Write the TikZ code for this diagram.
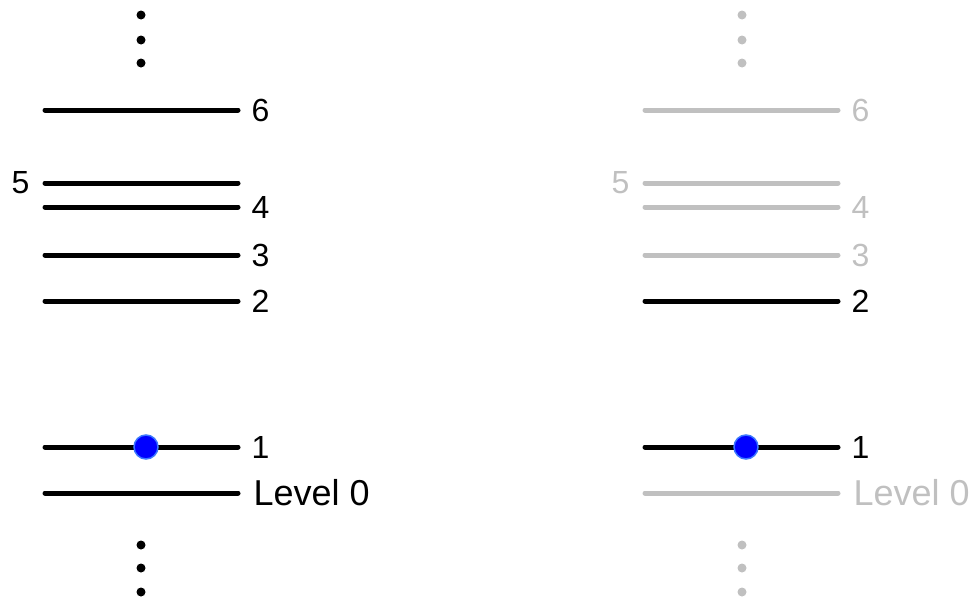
\documentclass[tikz,border=0pt]{standalone}
\usepackage{fontspec}
\setmainfont{Liberation Sans}
\usetikzlibrary{positioning}
\definecolor{faded}{RGB}{192,192,192}
\definecolor{rimblue}{RGB}{60,120,255}

\begin{document}
\begin{tikzpicture}[x=1pt, y=-1pt,
  level/.style={line width=5pt, line cap=round},
  lbl/.style={inner sep=0pt, font=\fontsize{32}{38}\selectfont},
  biglbl/.style={lbl, font=\fontsize{36}{42}\selectfont},
  vdot/.style={circle, fill, inner sep=0pt, minimum size=9pt},
  electron/.style={circle, fill=blue, draw=rimblue, line width=1.5pt, inner sep=0pt, minimum size=24pt}]
\useasboundingbox (0,0) rectangle (975,597);

% Left ladder: all levels shown
\node[vdot] (lt1) at (141,15) {};
\node[vdot] (lt2) at (141,40) {};
\node[vdot] (lt3) at (141,63) {};
\draw[level] (45,110) -- (238,110) node[lbl, right=11pt] (l6) {6};
\draw[level] (45,183) -- (238,183) node[lbl, pos=0, left=13pt] (l5) {5};
\draw[level] (45,207) -- (238,207) node[lbl, right=11pt] (l4) {4};
\draw[level] (45,255) -- (238,255) node[lbl, right=11pt] (l3) {3};
\draw[level] (45,301) -- (238,301) node[lbl, right=11pt] (l2) {2};
\draw[level] (45,447) -- (238,447) node[lbl, right=11pt] (l1) {1};
\draw[level] (45,493) -- (238,493) node[biglbl, right=13pt] (l0) {Level 0};
\node[electron] (le) at (146,447) {};
\node[vdot] (lb1) at (141,545) {};
\node[vdot] (lb2) at (141,568) {};
\node[vdot] (lb3) at (141,592) {};

% Right ladder: only levels 1 and 2 active
\begin{scope}[xshift=600pt]
\node[vdot, faded] (rt1) at (142,15) {};
\node[vdot, faded] (rt2) at (142,40) {};
\node[vdot, faded] (rt3) at (142,63) {};
\draw[level, faded] (45,110) -- (238,110) node[lbl, right=11pt] (r6) {6};
\draw[level, faded] (45,183) -- (238,183) node[lbl, pos=0, left=13pt] (r5) {5};
\draw[level, faded] (45,207) -- (238,207) node[lbl, right=11pt] (r4) {4};
\draw[level, faded] (45,255) -- (238,255) node[lbl, right=11pt] (r3) {3};
\draw[level] (45,301) -- (238,301) node[lbl, right=11pt] (r2) {2};
\draw[level] (45,447) -- (238,447) node[lbl, right=11pt] (r1) {1};
\draw[level, faded] (45,493) -- (238,493) node[biglbl, right=13pt] (r0) {Level 0};
\node[electron] (re) at (146,447) {};
\node[vdot, faded] (rb1) at (142,545) {};
\node[vdot, faded] (rb2) at (142,568) {};
\node[vdot, faded] (rb3) at (142,592) {};
\end{scope}
\end{tikzpicture}
\end{document}
